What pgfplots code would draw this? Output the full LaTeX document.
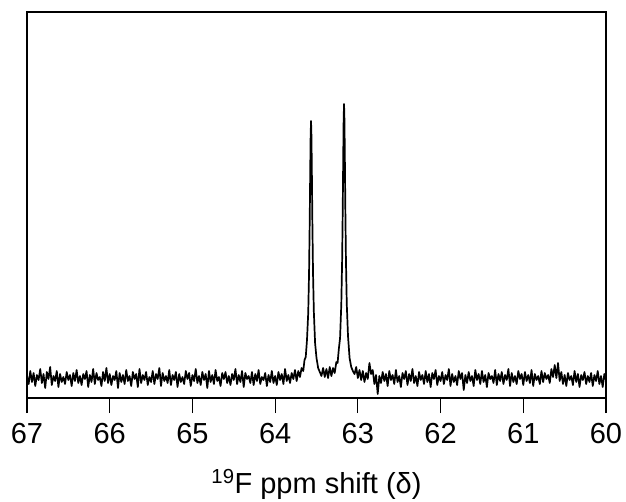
\documentclass[border=0pt]{standalone}
\usepackage{fontspec}
\setmainfont{Liberation Sans}
\usepackage{pgfplots}
\pgfplotsset{compat=1.18}
\usepackage{pgfplotstable}
\pgfplotstableread{
x y
67.00 22
66.98 14
66.96 27
66.94 16
66.92 25
66.90 12
66.88 23
66.86 18
66.84 29
66.82 15
66.80 24
66.78 10
66.76 26
66.74 19
66.72 31
66.70 13
66.68 22
66.66 17
66.64 27
66.62 11
66.60 24
66.58 16
66.56 21
66.54 14
66.52 26
66.50 18
66.48 23
66.46 12
66.44 25
66.42 17
66.40 28
66.38 15
66.36 22
66.34 13
66.32 24
66.30 19
66.28 27
66.26 11
66.24 23
66.22 16
66.20 29
66.18 14
66.16 25
66.14 18
66.12 21
66.10 12
66.08 26
66.06 17
66.04 30
66.02 15
66.00 24
65.98 13
65.96 22
65.94 18
65.92 27
65.90 10
65.88 25
65.86 16
65.84 23
65.82 14
65.80 28
65.78 17
65.76 22
65.74 12
65.72 26
65.70 19
65.68 24
65.66 11
65.64 29
65.62 15
65.60 23
65.58 18
65.56 26
65.54 13
65.52 21
65.50 16
65.48 27
65.46 14
65.44 24
65.42 19
65.40 30
65.38 12
65.36 25
65.34 17
65.32 22
65.30 15
65.28 28
65.26 13
65.24 23
65.22 18
65.20 26
65.18 11
65.16 24
65.14 16
65.12 21
65.10 14
65.08 27
65.06 19
65.04 25
65.02 12
65.00 23
64.98 17
64.96 29
64.94 15
64.92 22
64.90 13
64.88 26
64.86 18
64.84 24
64.82 10
64.80 27
64.78 16
64.76 23
64.74 14
64.72 28
64.70 17
64.68 21
64.66 12
64.64 25
64.62 19
64.60 26
64.58 15
64.56 22
64.54 13
64.52 24
64.50 18
64.48 29
64.46 14
64.44 23
64.42 16
64.40 27
64.38 11
64.36 25
64.34 19
64.32 22
64.30 15
64.28 26
64.26 13
64.24 24
64.22 17
64.20 28
64.18 14
64.16 21
64.14 18
64.12 25
64.10 12
64.08 23
64.06 16
64.04 27
64.02 15
64.00 22
63.98 13
63.96 26
63.94 18
63.92 24
63.90 14
63.88 29
63.86 17
63.84 23
63.82 15
63.80 25
63.78 19
63.76 28
63.74 17
63.72 27
63.70 21
63.68 30
63.66 27
63.645 38
63.63 41
63.615 58
63.60 85
63.59 125
63.582 177
63.576 226
63.571 262
63.566 277
63.561 262
63.556 226
63.550 177
63.542 125
63.532 86
63.517 55
63.50 40
63.48 30
63.46 26
63.44 22
63.42 30
63.40 21
63.38 29
63.36 20
63.34 31
63.32 22
63.30 30
63.28 25
63.26 36
63.245 35
63.23 49
63.215 60
63.20 94
63.19 138
63.183 187
63.177 239
63.172 278
63.167 294
63.162 278
63.157 239
63.151 187
63.144 138
63.134 94
63.119 62
63.10 40
63.08 31
63.06 27
63.04 24
63.02 31
63.00 20
62.98 28
62.96 18
62.94 27
62.92 16
62.90 25
62.88 19
62.86 35
62.84 24
62.82 28
62.80 14
62.78 23
62.76 4
62.74 22
62.72 15
62.70 26
62.68 17
62.66 24
62.64 12
62.62 27
62.60 18
62.58 23
62.56 14
62.54 28
62.52 16
62.50 22
62.48 11
62.46 25
62.44 19
62.42 27
62.40 13
62.38 24
62.36 17
62.34 29
62.32 15
62.30 22
62.28 12
62.26 26
62.24 18
62.22 23
62.20 14
62.18 27
62.16 16
62.14 24
62.12 11
62.10 25
62.08 19
62.06 28
62.04 13
62.02 22
62.00 17
61.98 26
61.96 14
61.94 23
61.92 18
61.90 29
61.88 12
61.86 24
61.84 16
61.82 22
61.80 13
61.78 27
61.76 19
61.74 25
61.72 8
61.70 23
61.68 15
61.66 26
61.64 17
61.62 22
61.60 12
61.58 28
61.56 18
61.54 24
61.52 14
61.50 27
61.48 16
61.46 23
61.44 11
61.42 25
61.40 19
61.38 22
61.36 15
61.34 28
61.32 13
61.30 24
61.28 17
61.26 26
61.24 14
61.22 23
61.20 18
61.18 29
61.16 12
61.14 25
61.12 16
61.10 22
61.08 14
61.06 27
61.04 19
61.02 24
61.00 13
60.98 26
60.96 17
60.94 23
60.92 15
60.90 28
60.88 12
60.86 24
60.84 18
60.82 22
60.80 14
60.78 27
60.76 16
60.74 25
60.72 19
60.70 23
60.68 15
60.66 29
60.64 21
60.62 33
60.60 20
60.58 35
60.56 17
60.54 26
60.52 14
60.50 23
60.48 12
60.46 25
60.44 18
60.42 22
60.40 13
60.38 27
60.36 16
60.34 24
60.32 11
60.30 23
60.28 18
60.26 26
60.24 14
60.22 22
60.20 16
60.18 25
60.16 12
60.14 23
60.12 17
60.10 27
60.08 14
60.06 22
60.04 11
60.02 24
60.00 18
}\spec
\begin{document}
\begin{tikzpicture}
\begin{axis}[
  name=ax,
  scale only axis,
  width=579pt, height=386pt,
  x dir=reverse,
  xmin=60, xmax=67,
  ymin=0, ymax=386,
  xtick={60,61,62,63,64,65,66,67},
  ytick=\empty,
  xtick pos=bottom,
  tick align=outside,
  major tick length=15pt,
  tick style={black, line width=1.2pt},
  axis line style={black, line width=1.2pt},
  /pgf/number format/assume math mode=true,
  xticklabel style={font=\fontsize{29}{34}\selectfont, anchor=base, yshift=-30pt},
  xlabel={\textsuperscript{19}F ppm shift (δ)},
  xlabel style={font=\fontsize{29}{34}\selectfont, at={(axis description cs:0.5,0)}, anchor=base, yshift=-95pt},
]
\addplot[black, line width=1.7pt, line join=round, mark=none] table[x=x, y=y] {\spec};
\end{axis}
\pgfresetboundingbox
\path ([xshift=-27pt,yshift=-103pt]ax.south west) rectangle ([xshift=20pt,yshift=12pt]ax.north east);
\end{tikzpicture}
\end{document}
